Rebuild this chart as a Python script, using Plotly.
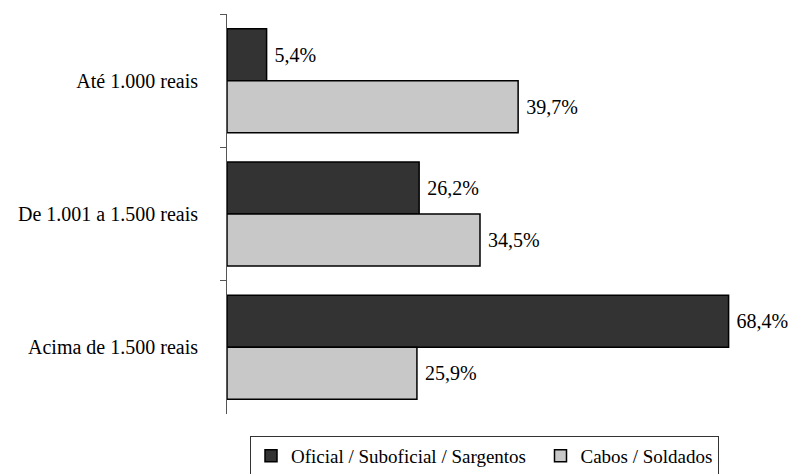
import plotly.graph_objects as go

# Income bands and the share of each rank group in each band (%)
categories = ["Até 1.000 reais", "De 1.001 a 1.500 reais", "Acima de 1.500 reais"]
oficiais = [5.4, 26.2, 68.4]
cabos = [39.7, 34.5, 25.9]
series_names = ["Oficial / Suboficial / Sargentos\u00a0\u00a0", "Cabos / Soldados"]

FONT = "Liberation Serif, Times New Roman, DejaVu Serif, serif"


def pct_label(v):
    return " " + f"{v:.1f}%".replace(".", ",")


fig = go.Figure()
for name, vals, color in [
    (series_names[0], oficiais, "#333333"),
    (series_names[1], cabos, "#C8C8C8"),
]:
    fig.add_trace(go.Bar(
        y=categories,
        x=vals,
        name=name,
        orientation="h",
        marker=dict(color=color, line=dict(color="#000000", width=1.5)),
        text=[pct_label(v) for v in vals],
        textposition="outside",
        textfont=dict(family=FONT, size=20, color="#000000"),
        cliponaxis=False,
    ))

fig.update_layout(
    width=792,
    height=474,
    margin=dict(l=227, r=15, t=14, b=60, autoexpand=False),
    paper_bgcolor="white",
    plot_bgcolor="white",
    barmode="group",
    bargap=0.22,
    bargroupgap=0,
    font=dict(family=FONT, size=19, color="#000000"),
    showlegend=True,
    legend=dict(
        orientation="h",
        xref="container",
        x=250 / 792,
        xanchor="left",
        y=-0.055,
        yanchor="top",
        bordercolor="#333333",
        borderwidth=1,
        font=dict(family=FONT, size=19, color="#000000"),
        itemwidth=30,
        traceorder="normal",
    ),
    xaxis=dict(
        range=[0, 75],
        visible=False,
        showgrid=False,
        zeroline=False,
    ),
    yaxis=dict(
        autorange="reversed",
        automargin=False,
        showline=True,
        linecolor="#555555",
        linewidth=1,
        ticks="outside",
        tickson="boundaries",
        ticklen=6,
        tickcolor="#555555",
        showgrid=False,
        ticklabelstandoff=24,
        tickfont=dict(family=FONT, size=20, color="#000000"),
    ),
)

fig.write_html("out.html")
